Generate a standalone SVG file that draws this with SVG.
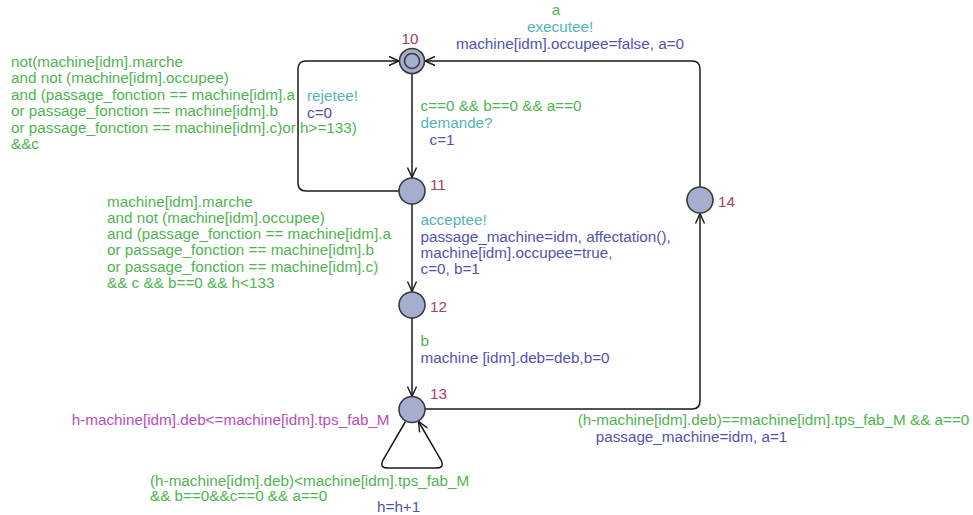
<svg xmlns="http://www.w3.org/2000/svg" width="973" height="515" viewBox="0 0 973 515">
<style>
text{font-family:"Liberation Sans",Arial,sans-serif;font-size:15.25px}
.g{fill:#4fb54f}
.t{fill:#55b3bb}
.b{fill:#5252b0}
.m{fill:#bb4cbb}
.n{fill:#a3416d}
.node{fill:#a6aed0;stroke:#3a3a3a;stroke-width:1.6}
.edge{fill:none;stroke:#1a1a1a;stroke-width:1.5}
</style>
<defs>
<marker id="arr" markerUnits="userSpaceOnUse" markerWidth="14" markerHeight="12" refX="10" refY="5" orient="auto" overflow="visible">
<path d="M0,0.5 L10,5 L0,9.5" fill="none" stroke="#1a1a1a" stroke-width="1.4"/>
</marker>
</defs>
<g id="connectors">
<path class="edge" d="M412,73.5 L412,177.5" marker-end="url(#arr)"/>
<path class="edge" d="M399,191 L306,191 Q298,191 298,183 L298,69 Q298,61 306,61 L399,61" marker-end="url(#arr)"/>
<path class="edge" d="M412,204 L412,291.5" marker-end="url(#arr)"/>
<path class="edge" d="M412,318 L412,396.5" marker-end="url(#arr)"/>
<path class="edge" d="M700,187 L700,69 Q700,61 692,61 L425,61" marker-end="url(#arr)"/>
<path class="edge" d="M425,409 L692,409 Q700,409 700,401 L700,213.5" marker-end="url(#arr)"/>
<path class="edge" d="M405.5,421.5 L383,460 Q379,468 388,468 L436,468 Q445,468 441,460 L418.5,421.5" marker-end="url(#arr)"/>
<text class="g" x="556" y="15" text-anchor="middle">a</text>
<text class="t" x="527" y="32">executee!</text>
<text class="b" x="456" y="49">machine[idm].occupee=false, a=0</text>
<text class="g" x="11" y="67">not(machine[idm].marche</text>
<text class="g" x="11" y="83.3">and not (machine[idm].occupee)</text>
<text class="g" x="11" y="99.6">and (passage_fonction == machine[idm].a</text>
<text class="g" x="11" y="115.9">or passage_fonction == machine[idm].b</text>
<text class="g" x="11" y="132.6">or passage_fonction == machine[idm].c)or h&gt;=133)</text>
<text class="g" x="11" y="148.8">&amp;&amp;c</text>
<text class="t" x="307" y="101">rejetee!</text>
<text class="b" x="307" y="117.5">c=0</text>
<text class="g" x="420.5" y="111">c==0 &amp;&amp; b==0 &amp;&amp; a==0</text>
<text class="t" x="420.5" y="128">demande?</text>
<text class="b" x="429.5" y="145">c=1</text>
<text class="g" x="107" y="206.7">machine[idm].marche</text>
<text class="g" x="107" y="222.9">and not (machine[idm].occupee)</text>
<text class="g" x="107" y="239.1">and (passage_fonction == machine[idm].a</text>
<text class="g" x="107" y="255.3">or passage_fonction == machine[idm].b</text>
<text class="g" x="107" y="271.5">or passage_fonction == machine[idm].c)</text>
<text class="g" x="107" y="287.7">&amp;&amp; c &amp;&amp; b==0 &amp;&amp; h&lt;133</text>
<text class="t" x="420.5" y="224.5">acceptee!</text>
<text class="b" x="420.5" y="241.5">passage_machine=idm, affectation(),</text>
<text class="b" x="420.5" y="257.5">machine[idm].occupee=true,</text>
<text class="b" x="420.5" y="273.5">c=0, b=1</text>
<text class="g" x="420.5" y="345.7">b</text>
<text class="b" x="420.5" y="363">machine [idm].deb=deb,b=0</text>
<text class="g" x="150" y="485.5">(h-machine[idm].deb)&lt;machine[idm].tps_fab_M</text>
<text class="g" x="150" y="501">&amp;&amp; b==0&amp;&amp;c==0 &amp;&amp; a==0</text>
<text class="b" x="377" y="511.7">h=h+1</text>
<text class="g" x="577.7" y="425">(h-machine[idm].deb)==machine[idm].tps_fab_M &amp;&amp; a==0</text>
<text class="b" x="595.7" y="442.3">passage_machine=idm, a=1</text>
</g>
<g id="n10">
<circle class="node" cx="412" cy="61" r="12.5"/>
<circle class="node" cx="412" cy="61" r="7.5"/>
<text class="n" x="401.5" y="43.5">10</text>
</g>
<g id="n11">
<circle class="node" cx="412" cy="191" r="13"/>
<text class="n" x="430" y="189.5">11</text>
</g>
<g id="n12">
<circle class="node" cx="412" cy="305" r="13"/>
<text class="n" x="430" y="311.5">12</text>
</g>
<g id="n13">
<circle class="node" cx="412" cy="409.5" r="13"/>
<text class="n" x="430" y="398.5">13</text>
<text class="m" x="71.7" y="425">h-machine[idm].deb&lt;=machine[idm].tps_fab_M</text>
</g>
<g id="n14">
<circle class="node" cx="700" cy="200" r="13"/>
<text class="n" x="718" y="206.5">14</text>
</g>
</svg>
